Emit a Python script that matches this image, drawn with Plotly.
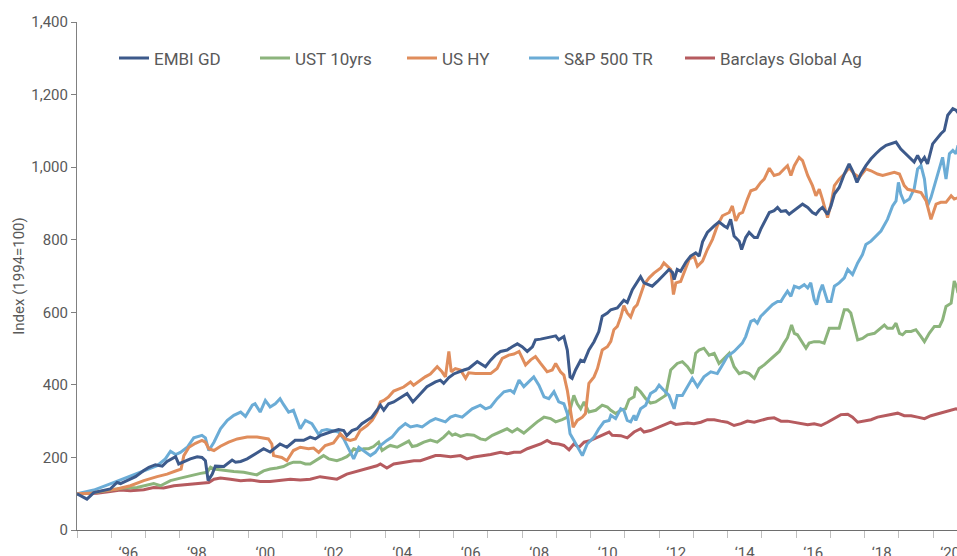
import plotly.graph_objects as go

# ---- data (x = position on the axis in years, y = index level) ----
EMBI_GD = [(1995.00,100),(1995.29,85),(1995.49,103),(1995.73,108),(1995.97,113),(1996.17,131),(1996.27,128),(1996.46,136),(1996.71,147),(1996.95,164),(1997.10,173),(1997.29,180),(1997.49,176),(1997.63,189),(1997.88,202),(1997.97,182),(1998.12,189),(1998.31,196),(1998.51,202),(1998.65,200),(1998.75,191),(1998.83,136),(1998.95,154),(1999.04,176),(1999.29,175),(1999.53,193),(1999.63,187),(1999.78,189),(1999.97,196),(2000.25,212),(2000.45,224),(2000.64,215),(2000.93,237),(2001.13,228),(2001.37,247),(2001.62,247),(2001.81,256),(2001.96,251),(2002.10,260),(2002.40,270),(2002.64,277),(2002.79,274),(2002.88,260),(2003.03,274),(2003.18,279),(2003.32,293),(2003.47,302),(2003.61,311),(2003.76,330),(2003.86,344),(2003.96,330),(2004.10,348),(2004.25,353),(2004.54,370),(2004.64,376),(2004.81,353),(2004.98,371),(2005.22,395),(2005.47,408),(2005.61,413),(2005.71,404),(2005.86,420),(2006.00,430),(2006.15,436),(2006.30,441),(2006.44,445),(2006.59,455),(2006.69,464),(2006.78,459),(2006.93,450),(2007.08,468),(2007.22,482),(2007.37,492),(2007.56,496),(2007.71,505),(2007.86,513),(2008.00,505),(2008.15,492),(2008.30,505),(2008.39,524),(2008.54,526),(2008.73,531),(2008.88,533),(2008.98,535),(2009.07,524),(2009.22,533),(2009.32,496),(2009.40,422),(2009.46,418),(2009.56,441),(2009.71,468),(2009.81,464),(2009.95,496),(2010.10,519),(2010.24,547),(2010.34,589),(2010.49,598),(2010.59,607),(2010.78,612),(2010.97,633),(2011.07,627),(2011.22,662),(2011.36,685),(2011.46,698),(2011.56,681),(2011.71,674),(2011.80,672),(2011.95,685),(2012.14,704),(2012.29,718),(2012.39,710),(2012.44,690),(2012.53,718),(2012.63,713),(2012.78,738),(2012.92,755),(2013.07,764),(2013.17,755),(2013.27,794),(2013.41,820),(2013.61,838),(2013.75,849),(2013.90,838),(2013.99,833),(2014.09,856),(2014.19,810),(2014.34,796),(2014.41,773),(2014.53,806),(2014.63,820),(2014.78,806),(2014.87,806),(2014.97,829),(2015.12,856),(2015.22,875),(2015.36,880),(2015.46,889),(2015.56,878),(2015.70,880),(2015.80,870),(2015.95,880),(2016.09,889),(2016.19,898),(2016.34,889),(2016.48,875),(2016.58,870),(2016.68,882),(2016.77,889),(2016.92,870),(2017.02,893),(2017.12,926),(2017.26,944),(2017.41,981),(2017.55,1009),(2017.65,990),(2017.78,958),(2017.89,981),(2018.04,1004),(2018.19,1023),(2018.33,1037),(2018.48,1050),(2018.63,1060),(2018.77,1064),(2018.92,1069),(2019.06,1050),(2019.21,1037),(2019.36,1023),(2019.45,1014),(2019.55,1032),(2019.65,1014),(2019.75,1027),(2019.84,1009),(2019.99,1064),(2020.14,1083),(2020.23,1092),(2020.33,1101),(2020.43,1143),(2020.58,1161),(2020.67,1157),(2020.73,1150)]

UST_10YRS = [(1995.00,100),(1995.58,104),(1995.97,110),(1996.36,116),(1996.75,117),(1997.05,124),(1997.24,128),(1997.44,122),(1997.73,136),(1998.02,143),(1998.31,150),(1998.61,156),(1998.80,159),(1998.90,173),(1999.00,168),(1999.29,164),(1999.58,161),(1999.87,159),(2000.06,156),(2000.25,152),(2000.45,163),(2000.64,168),(2000.84,171),(2001.03,175),(2001.18,182),(2001.32,187),(2001.52,187),(2001.67,182),(2001.81,182),(2001.96,191),(2002.10,200),(2002.20,205),(2002.35,196),(2002.49,193),(2002.59,191),(2002.74,196),(2002.88,202),(2002.98,210),(2003.08,224),(2003.23,219),(2003.37,224),(2003.52,224),(2003.66,230),(2003.81,242),(2003.91,219),(2004.05,228),(2004.15,233),(2004.35,228),(2004.54,237),(2004.69,245),(2004.79,230),(2004.93,233),(2005.13,242),(2005.32,248),(2005.52,242),(2005.71,256),(2005.86,270),(2005.96,261),(2006.05,265),(2006.20,258),(2006.39,263),(2006.59,261),(2006.78,251),(2006.93,248),(2007.13,261),(2007.37,270),(2007.56,279),(2007.71,270),(2007.86,279),(2008.05,267),(2008.25,284),(2008.44,298),(2008.64,311),(2008.83,307),(2008.98,298),(2009.17,304),(2009.32,311),(2009.42,339),(2009.51,371),(2009.61,348),(2009.71,334),(2009.81,353),(2009.95,325),(2010.15,330),(2010.34,344),(2010.49,339),(2010.59,330),(2010.73,321),(2010.88,330),(2011.02,334),(2011.12,359),(2011.27,367),(2011.32,394),(2011.46,381),(2011.61,362),(2011.75,350),(2011.90,353),(2012.05,362),(2012.19,371),(2012.34,441),(2012.44,450),(2012.53,459),(2012.68,464),(2012.83,450),(2012.97,431),(2013.07,487),(2013.17,496),(2013.31,501),(2013.46,482),(2013.61,487),(2013.75,459),(2013.90,473),(2014.05,487),(2014.19,450),(2014.34,431),(2014.48,436),(2014.63,431),(2014.78,418),(2014.92,445),(2015.07,455),(2015.22,468),(2015.36,478),(2015.51,492),(2015.65,515),(2015.75,530),(2015.87,565),(2015.95,542),(2016.04,538),(2016.14,524),(2016.29,501),(2016.38,515),(2016.53,519),(2016.68,519),(2016.82,515),(2016.97,556),(2017.12,556),(2017.26,556),(2017.41,607),(2017.51,607),(2017.60,598),(2017.70,561),(2017.80,524),(2017.94,528),(2018.09,538),(2018.29,542),(2018.43,552),(2018.58,565),(2018.67,556),(2018.82,556),(2018.92,570),(2019.02,542),(2019.11,538),(2019.21,547),(2019.36,547),(2019.50,552),(2019.65,533),(2019.75,519),(2019.89,542),(2020.04,561),(2020.19,561),(2020.28,579),(2020.38,616),(2020.53,625),(2020.62,686),(2020.70,667),(2020.73,653)]

US_HY = [(1995.00,100),(1995.39,101),(1995.78,108),(1996.17,113),(1996.56,122),(1996.95,136),(1997.34,147),(1997.63,154),(1997.92,164),(1998.04,168),(1998.12,205),(1998.27,228),(1998.46,239),(1998.65,247),(1998.75,242),(1998.85,224),(1999.00,219),(1999.19,231),(1999.43,242),(1999.68,251),(1999.97,256),(2000.26,256),(2000.59,251),(2000.69,237),(2000.74,205),(2000.98,200),(2001.13,191),(2001.32,219),(2001.52,228),(2001.76,224),(2001.91,226),(2002.06,214),(2002.25,233),(2002.49,240),(2002.69,265),(2002.84,251),(2002.98,247),(2003.13,251),(2003.27,274),(2003.47,288),(2003.62,302),(2003.76,325),(2003.86,353),(2003.96,357),(2004.10,367),(2004.25,383),(2004.54,394),(2004.74,408),(2004.83,399),(2005.03,413),(2005.17,422),(2005.32,430),(2005.52,450),(2005.66,436),(2005.76,422),(2005.86,492),(2005.93,436),(2006.05,445),(2006.20,441),(2006.35,418),(2006.44,433),(2006.64,431),(2006.88,431),(2007.08,431),(2007.27,445),(2007.42,473),(2007.61,482),(2007.76,485),(2007.91,492),(2008.10,455),(2008.25,469),(2008.39,478),(2008.54,459),(2008.73,436),(2008.88,441),(2008.98,459),(2009.12,436),(2009.22,427),(2009.32,385),(2009.42,321),(2009.49,283),(2009.61,302),(2009.76,311),(2009.85,321),(2009.95,404),(2010.10,422),(2010.20,445),(2010.34,496),(2010.49,505),(2010.59,520),(2010.68,552),(2010.78,561),(2010.88,587),(2010.97,618),(2011.07,598),(2011.17,587),(2011.27,612),(2011.36,621),(2011.46,649),(2011.56,676),(2011.71,695),(2011.85,708),(2012.05,722),(2012.14,736),(2012.24,727),(2012.34,718),(2012.42,649),(2012.49,681),(2012.63,685),(2012.73,708),(2012.88,746),(2013.02,755),(2013.12,727),(2013.27,741),(2013.41,773),(2013.56,801),(2013.70,838),(2013.85,866),(2013.95,871),(2014.05,875),(2014.14,893),(2014.24,852),(2014.34,871),(2014.44,875),(2014.58,912),(2014.68,935),(2014.83,940),(2014.97,958),(2015.07,967),(2015.22,997),(2015.36,977),(2015.51,981),(2015.65,995),(2015.75,1004),(2015.85,977),(2015.95,1004),(2016.09,1027),(2016.19,1018),(2016.34,977),(2016.48,949),(2016.58,921),(2016.68,939),(2016.77,912),(2016.92,861),(2017.02,898),(2017.12,949),(2017.26,967),(2017.41,981),(2017.55,999),(2017.70,981),(2017.85,972),(2018.04,995),(2018.19,990),(2018.38,981),(2018.53,977),(2018.68,981),(2018.87,986),(2019.02,981),(2019.16,949),(2019.26,939),(2019.45,935),(2019.65,930),(2019.80,907),(2019.94,856),(2020.09,898),(2020.23,903),(2020.38,903),(2020.53,921),(2020.62,912),(2020.73,916)]

SP500_TR = [(1995.00,100),(1995.49,110),(1995.97,127),(1996.46,145),(1996.95,162),(1997.34,177),(1997.58,196),(1997.73,217),(1997.88,208),(1998.02,214),(1998.22,228),(1998.41,254),(1998.65,261),(1998.75,254),(1998.85,219),(1999.00,242),(1999.19,279),(1999.39,302),(1999.58,316),(1999.78,325),(1999.92,313),(2000.12,344),(2000.20,348),(2000.35,325),(2000.50,357),(2000.64,339),(2000.79,348),(2000.93,362),(2001.03,346),(2001.18,325),(2001.32,330),(2001.52,279),(2001.67,302),(2001.86,293),(2002.06,263),(2002.15,274),(2002.30,277),(2002.49,274),(2002.64,270),(2002.79,251),(2002.93,223),(2003.08,196),(2003.23,228),(2003.42,214),(2003.57,205),(2003.71,214),(2003.86,233),(2004.05,247),(2004.20,256),(2004.40,279),(2004.59,293),(2004.74,284),(2004.93,288),(2005.08,284),(2005.32,300),(2005.47,307),(2005.61,302),(2005.76,298),(2005.91,311),(2006.05,316),(2006.25,311),(2006.39,321),(2006.54,334),(2006.78,344),(2006.93,334),(2007.08,339),(2007.27,362),(2007.47,381),(2007.66,385),(2007.76,378),(2007.91,413),(2008.05,395),(2008.20,408),(2008.34,422),(2008.49,399),(2008.64,367),(2008.78,362),(2008.93,381),(2009.07,353),(2009.22,348),(2009.32,321),(2009.40,265),(2009.51,247),(2009.66,224),(2009.76,205),(2009.90,237),(2010.10,256),(2010.24,279),(2010.39,298),(2010.54,302),(2010.59,316),(2010.73,307),(2010.88,334),(2010.97,330),(2011.07,302),(2011.17,298),(2011.27,316),(2011.32,302),(2011.46,334),(2011.61,344),(2011.75,376),(2011.90,385),(2012.00,399),(2012.14,385),(2012.29,371),(2012.44,334),(2012.53,371),(2012.68,371),(2012.83,395),(2012.97,418),(2013.12,395),(2013.31,422),(2013.51,436),(2013.70,431),(2013.85,455),(2013.99,478),(2014.19,492),(2014.34,505),(2014.43,515),(2014.53,533),(2014.68,575),(2014.78,579),(2014.87,570),(2014.97,589),(2015.17,607),(2015.31,621),(2015.46,630),(2015.56,630),(2015.65,644),(2015.75,658),(2015.85,644),(2015.95,672),(2016.09,667),(2016.24,676),(2016.34,667),(2016.43,681),(2016.53,635),(2016.60,621),(2016.68,653),(2016.77,676),(2016.92,630),(2017.02,630),(2017.12,672),(2017.26,681),(2017.41,695),(2017.51,718),(2017.65,704),(2017.80,736),(2017.94,759),(2018.04,787),(2018.19,796),(2018.33,810),(2018.48,824),(2018.67,856),(2018.82,893),(2018.92,907),(2018.99,958),(2019.06,926),(2019.16,903),(2019.31,912),(2019.45,940),(2019.55,995),(2019.65,1004),(2019.75,967),(2019.84,893),(2019.94,916),(2020.04,949),(2020.19,995),(2020.28,1027),(2020.38,967),(2020.48,1037),(2020.58,1046),(2020.67,1037),(2020.73,1060)]

BARCLAYS_GLOBAL_AG = [(1995.00,100),(1995.58,101),(1995.97,106),(1996.27,110),(1996.56,108),(1996.95,111),(1997.24,117),(1997.53,116),(1997.83,122),(1998.22,125),(1998.61,128),(1998.85,131),(1999.00,140),(1999.19,143),(1999.48,140),(1999.78,136),(2000.06,138),(2000.35,134),(2000.64,134),(2000.93,136),(2001.23,140),(2001.52,138),(2001.81,140),(2002.10,147),(2002.30,145),(2002.59,140),(2002.88,154),(2003.18,162),(2003.47,168),(2003.76,177),(2003.86,182),(2004.05,171),(2004.25,182),(2004.54,187),(2004.84,191),(2005.03,191),(2005.22,198),(2005.47,205),(2005.61,205),(2005.91,202),(2006.20,205),(2006.39,196),(2006.59,201),(2006.88,205),(2007.08,208),(2007.37,214),(2007.56,210),(2007.76,214),(2007.95,214),(2008.15,224),(2008.34,230),(2008.54,237),(2008.73,247),(2008.88,239),(2009.07,237),(2009.22,233),(2009.37,221),(2009.51,237),(2009.66,228),(2009.81,242),(2010.00,247),(2010.20,256),(2010.39,265),(2010.54,270),(2010.63,261),(2010.88,260),(2011.07,254),(2011.27,270),(2011.46,279),(2011.56,270),(2011.75,274),(2011.95,282),(2012.14,288),(2012.34,297),(2012.49,291),(2012.63,293),(2012.83,295),(2013.02,293),(2013.22,297),(2013.41,304),(2013.61,304),(2013.80,300),(2013.99,297),(2014.19,288),(2014.39,293),(2014.58,300),(2014.78,297),(2014.97,302),(2015.17,307),(2015.36,309),(2015.56,300),(2015.75,300),(2015.95,297),(2016.14,295),(2016.34,290),(2016.53,293),(2016.73,288),(2016.92,297),(2017.12,307),(2017.31,318),(2017.51,319),(2017.65,311),(2017.80,297),(2017.99,300),(2018.19,304),(2018.38,311),(2018.58,315),(2018.77,318),(2018.97,322),(2019.16,315),(2019.36,315),(2019.55,311),(2019.75,307),(2019.94,315),(2020.14,320),(2020.33,325),(2020.53,330),(2020.67,334),(2020.73,332)]

SERIES_NAMES = ["EMBI GD", "UST 10yrs", "US HY", "S&P 500 TR", "Barclays Global Ag"]
SERIES_DATA = [EMBI_GD, UST_10YRS, US_HY, SP500_TR, BARCLAYS_GLOBAL_AG]
SERIES_COLORS = ["#3D5A8B", "#8CB47C", "#E08D5C", "#6BACD6", "#B65B5F"]

LABEL_YEARS = [1996, 1998, 2000, 2002, 2004, 2006, 2008, 2010, 2012, 2014, 2016, 2018, 2020]
LABEL_TEXT = ["\u201896", "\u201898", "\u201800", "\u201802", "\u201804", "\u201806", "\u201808",
              "\u201810", "\u201812", "\u201814", "\u201816", "\u201818", "\u201820"]
Y_TICKS = [0, 200, 400, 600, 800, 1000, 1200, 1400]

# ---- layout constants (pixels) ----
W, H = 957, 556
ML, MR, MT, MB = 77, 0, 22, 26
PLOT_W = W - ML - MR
FONT = "Roboto, 'Liberation Sans', Arial, sans-serif"
TXT = "#595959"
AXIS = "#808080"

# legend text start positions in the reference (px from left edge)
LEGEND_TEXT_PX = [154, 295, 442, 564, 720]
LEGEND_Y_PX = 58.5

fig = go.Figure()
draw_order = [4, 1, 3, 2, 0]
for i in draw_order:
    pts = SERIES_DATA[i]
    legend_id = "legend" if i == 0 else f"legend{i + 1}"
    fig.add_trace(go.Scatter(
        x=[p[0] for p in pts], y=[p[1] for p in pts],
        mode="lines", name=SERIES_NAMES[i],
        line=dict(color=SERIES_COLORS[i], width=3),
        legend=legend_id, showlegend=True,
    ))

legend_layout = {}
for i in range(len(SERIES_NAMES)):
    legend_id = "legend" if i == 0 else f"legend{i + 1}"
    legend_layout[legend_id] = dict(
        x=(LEGEND_TEXT_PX[i] - 40 - ML) / PLOT_W,
        y=(H - MB - LEGEND_Y_PX) / (H - MT - MB),
        xanchor="left", yanchor="middle", orientation="h",
        bgcolor="rgba(0,0,0,0)", borderwidth=0,
        font=dict(family=FONT, size=17, color=TXT),
        itemwidth=30,
    )

fig.update_layout(
    width=W, height=H,
    showlegend=True,
    margin=dict(l=ML, r=MR, t=MT, b=MB, pad=0),
    paper_bgcolor="white", plot_bgcolor="white",
    template="none",
    font=dict(family=FONT, color=TXT),
    **legend_layout,
    xaxis=dict(
        range=[1995, 1995 + PLOT_W / 34.24],
        tickmode="array",
        tickvals=[y + 0.5 for y in LABEL_YEARS],
        ticktext=LABEL_TEXT,
        ticks="",
        ticklabeloverflow="allow",
        ticklabelstandoff=9,
        tickfont=dict(family=FONT, size=15, color=TXT),
        showline=True, linecolor="#6E6E6E", linewidth=1,
        showgrid=False, zeroline=False, automargin=False,
        minor=dict(tickmode="linear", tick0=1995, dtick=1, ticks="outside",
                   ticklen=7, tickwidth=1, tickcolor="#BFBFBF", showgrid=False),
    ),
    yaxis=dict(
        range=[0, 1400],
        tickmode="array", tickvals=Y_TICKS,
        tickformat=",",
        ticks="outside", ticklen=5, tickwidth=1, tickcolor=AXIS,
        tickfont=dict(family=FONT, size=15, color=TXT),
        showline=True, linecolor=AXIS, linewidth=1,
        showgrid=False, zeroline=False, automargin=False,
        title=dict(text="Index (1994=100)", font=dict(family=FONT, size=15, color=TXT), standoff=3),
    ),
)

fig.write_html(
    "out.html",
    config={"displayModeBar": False},
    post_script="document.body.style.margin='0';document.body.style.overflow='hidden';",
)
